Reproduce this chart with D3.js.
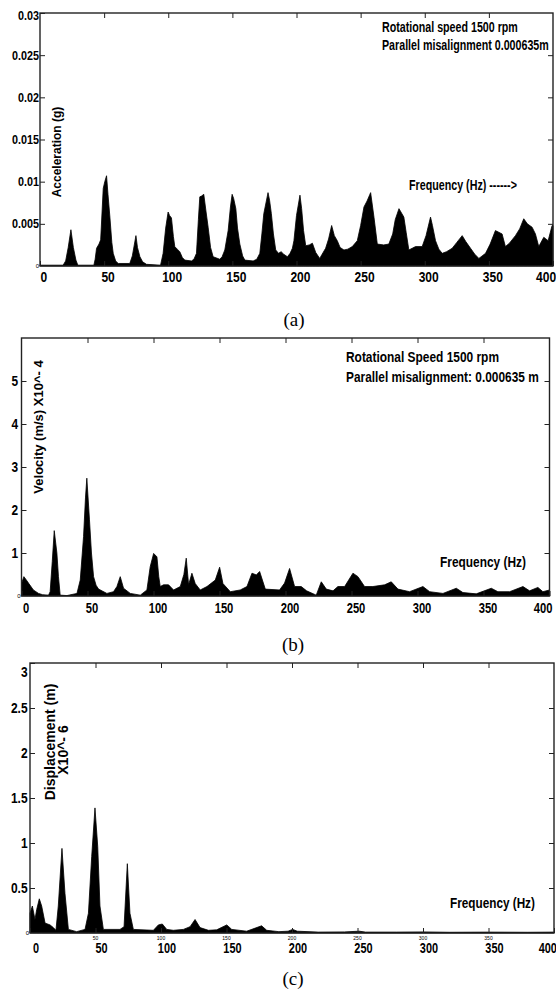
<!DOCTYPE html>
<html>
<head>
<meta charset="utf-8">
<script src="https://cdn.jsdelivr.net/npm/d3@7"></script>
<style>
  body { margin: 0; background: #fff; }
  svg text { font-family: "Liberation Sans", Arial, sans-serif; font-weight: bold; fill: #000; }
  svg text.caption { font-family: "Liberation Serif", "Times New Roman", serif; font-weight: normal; }
  svg text.tiny { font-weight: normal; }
</style>
</head>
<body>
<svg id="chart" width="556" height="994"></svg>
<script>
// ---- data (frequency in Hz) ----
const xTicks = [0, 50, 100, 150, 200, 250, 300, 350, 400]

// (a) acceleration, g
const accFreq = [0,18,20,22,24.1,26,28,29.5,42,43,44.1,46,47.3,49.3,50.5,51.9,53,54.5,56,57.1,59,61,70,72,74.8,76,77.9,80,83,94,96,98,99.9,101,102.5,104,105.1,107,109,111,112.9,118.1,120,122,123.5,124.6,126,127.7,129.5,131.1,133,135,140.2,142,144.1,146.7,148.5,149.8,151,152.7,154,155.8,158,159.7,166.2,169,171.4,173,174.5,177.8,179,180.4,182,183.8,186,188,190,192.9,195,196.8,198,200,202.7,204,205.5,207.2,210,212.4,215,218.1,220,222.7,225,227.4,229.5,231.8,234,237,240,243.5,247.4,250,252.6,255,257.8,260.4,263,268,272,275,277,279.9,283.7,285.5,287.6,292.8,298,301,304.5,306,308.4,311,313.6,317,321.4,325,329.2,332,335.7,339,342.2,347.4,351,355.1,360.3,362.9,366,370.7,374,377.2,380,383.7,386.3,388.9,392.8,396.2,399.3,400]
const accVal = [0.0001,0.0001,0.0006,0.0022,0.0043,0.0022,0.0007,0.0001,0.0001,0.0008,0.0021,0.0026,0.0031,0.0092,0.0100,0.0107,0.0085,0.0058,0.0028,0.0015,0.0006,0.0003,0.0003,0.0012,0.0036,0.0022,0.0011,0.0005,0.0002,0.0001,0.0015,0.0045,0.0064,0.0060,0.0057,0.0035,0.0023,0.0020,0.0017,0.0010,0.0007,0.0006,0.0008,0.0015,0.0055,0.0082,0.0083,0.0085,0.0064,0.0046,0.0022,0.0011,0.0008,0.0011,0.0019,0.0042,0.0070,0.0085,0.0080,0.0068,0.0045,0.0026,0.0012,0.0007,0.0006,0.0008,0.0015,0.0038,0.0062,0.0087,0.0078,0.0062,0.0038,0.0019,0.0015,0.0017,0.0014,0.0011,0.0015,0.0021,0.0030,0.0060,0.0084,0.0068,0.0042,0.0024,0.0025,0.0027,0.0016,0.0009,0.0014,0.0021,0.0032,0.0048,0.0036,0.0030,0.0022,0.0019,0.0020,0.0023,0.0030,0.0048,0.0070,0.0077,0.0087,0.0058,0.0026,0.0025,0.0026,0.0038,0.0055,0.0068,0.0058,0.0040,0.0019,0.0023,0.0023,0.0036,0.0058,0.0048,0.0030,0.0020,0.0015,0.0017,0.0021,0.0028,0.0036,0.0029,0.0021,0.0014,0.0009,0.0015,0.0026,0.0042,0.0038,0.0023,0.0027,0.0036,0.0044,0.0056,0.0050,0.0046,0.0038,0.0023,0.0034,0.0030,0.0048,0.0048]
const accTicks = [0.005, 0.01, 0.015, 0.02, 0.025, 0.03]
const accLabels = ["0.005", "0.01", "0.015", "0.02", "0.025", "0.03"]

// (b) velocity, m/s x10^-4
const velFreq = [0,1.8,3.5,5.3,9,12.9,16,20.5,21.7,23.3,24.8,26.8,28,29.3,34.4,42,44.5,47,48.5,49.5,51.5,53,54.6,56.5,58.4,64.7,69.7,72.3,74.8,77.3,82.4,90,95,97.5,100.1,102.6,104,105.1,107.6,111.4,115.2,120.3,123,124.8,126.6,129.1,131.6,135.4,140.5,146.8,150.1,152.6,158.2,165.7,170.8,174.6,177.9,180.4,184.7,195.5,199.3,203.1,206.9,211.9,216,223.3,227.1,230.9,236,239.7,244.8,251.1,254.9,259.9,266.2,275.1,280.1,285.2,294,304.1,309.2,319.3,329.4,334.4,344.5,355.9,360.9,369.8,379.9,384.9,391.2,395,400]
const velVal = [0.29,0.45,0.38,0.30,0.14,0.06,0.03,0.02,0.10,0.80,1.52,1.00,0.45,0.02,0.01,0.06,0.37,1.38,2.30,2.74,1.77,1.00,0.45,0.25,0.16,0.06,0.10,0.22,0.45,0.18,0.06,0.02,0.14,0.68,0.99,0.91,0.45,0.22,0.26,0.26,0.14,0.22,0.50,0.88,0.26,0.53,0.29,0.14,0.22,0.37,0.67,0.29,0.10,0.14,0.22,0.53,0.49,0.57,0.16,0.14,0.30,0.64,0.22,0.22,0.12,0.02,0.33,0.16,0.12,0.22,0.22,0.53,0.45,0.22,0.22,0.26,0.33,0.16,0.10,0.22,0.10,0.06,0.18,0.08,0.05,0.18,0.10,0.10,0.22,0.12,0.20,0.10,0.14]
const velTicks = [1, 2, 3, 4, 5]

// (c) displacement, m x10^-6
const dispFreq = [0,1.8,3.8,5.1,7.1,8.9,11.5,15.3,17.8,19.8,21.6,24.4,26.7,29.3,35.6,42,44.6,47.1,49.6,51.7,53.4,56,68.7,71.8,74.3,76.3,78.9,94.2,98,101,104.4,109.4,117.1,122.2,126,129.8,136.2,142.5,150.2,154,165.4,176.8,180.7,190,197,200.5,204,220,240,251.4,256,280,300,320,350,380,400]
const dispVal = [0.22,0.30,0.15,0.26,0.38,0.30,0.11,0.09,0.06,0.03,0.30,0.94,0.44,0.04,0.015,0.04,0.22,0.85,1.39,0.96,0.30,0.04,0.04,0.07,0.77,0.22,0.04,0.03,0.09,0.10,0.04,0.03,0.04,0.07,0.15,0.06,0.03,0.035,0.09,0.04,0.02,0.08,0.03,0.015,0.02,0.04,0.02,0.01,0.012,0.02,0.01,0.01,0.012,0.008,0.01,0.008,0.01]
const dispTicks = [0.5, 1, 1.5, 2, 2.5, 3]
const dispLabels = ["0.5", "1", "1.5", "2", "2.5", "3"]

const svg = d3.select("#chart")

// squeeze a text horizontally so it spans w pixels (narrow look of the original)
function narrowText(parent, t, x, y, w, size, rotate) {
  const el = parent.append("text").attr("font-size", size).text(t)
  const natural = el.node().getComputedTextLength()
  const s = Math.min(1, w / natural)
  if (rotate) {
    el.attr("text-anchor", "middle").attr("dominant-baseline", "central")
      .attr("transform", `translate(${x},${y}) rotate(-90) scale(${s},1)`)
  } else {
    el.attr("transform", `translate(${x},${y}) scale(${s},1)`)
  }
  return el
}

function drawPanel(p) {
  const x = d3.scaleLinear().domain([0, 400]).range([p.left, p.right])
  const y = d3.scaleLinear().domain([0, p.yMax]).range([p.bottom, p.top])
  const g = svg.append("g")

  // spectrum
  const pts = p.freq.map((f, i) => [f, p.val[i]])
  const area = d3.area().x(d => x(d[0])).y0(y(0)).y1(d => y(d[1]))
  g.append("path").datum(pts)
    .attr("d", area)
    .attr("fill", "#000")
    .attr("stroke", "#000")
    .attr("stroke-width", 0.8)
    .attr("stroke-linejoin", "round")

  // bottom axis, ticks inward
  const bx = g.append("g")
    .attr("transform", `translate(0,${p.bottom})`)
    .call(d3.axisBottom(x).tickValues(xTicks).tickSize(-5).tickPadding(p.xPad))
  bx.attr("font-family", null).attr("font-size", p.xFont)
  bx.select(".domain").remove()
  bx.selectAll("text")
    .attr("dx", p.xShift)
    .attr("transform", `scale(${p.xScale},1)`)
  bx.selectAll(".tick").filter(d => d === 400).select("text")
    .attr("text-anchor", "end").attr("dx", 3)

  // top axis ticks
  const tx = g.append("g")
    .attr("transform", `translate(0,${p.top})`)
    .call(d3.axisTop(x).tickValues(xTicks.slice(1, -1)).tickSize(-5).tickFormat(""))
  tx.select(".domain").remove()

  // left axis
  const ly = g.append("g")
    .attr("transform", `translate(${p.left},0)`)
    .call(d3.axisLeft(y).tickValues(p.yTicks).tickSize(-5).tickPadding(p.yPad)
      .tickFormat((d, i) => p.yLabels ? p.yLabels[i] : d))
  ly.attr("font-family", null).attr("font-size", p.yFont)
  ly.select(".domain").remove()
  ly.selectAll("text").attr("transform", `scale(${p.yScale},1)`)
  ly.selectAll(".tick").filter(d => d === p.yMax).select("text").attr("y", p.topShift)

  // right axis ticks
  const ry = g.append("g")
    .attr("transform", `translate(${p.right},0)`)
    .call(d3.axisRight(y).tickValues(p.yTicks.filter(d => d < p.yMax)).tickSize(-5).tickFormat(""))
  ry.select(".domain").remove()

  g.selectAll(".tick line").attr("stroke", "#222").attr("stroke-width", 1)

  // frame
  g.append("rect")
    .attr("x", p.left).attr("y", p.top)
    .attr("width", p.right - p.left).attr("height", p.bottom - p.top)
    .attr("fill", "none").attr("stroke", "#222").attr("stroke-width", 1.4)

  // little origin zero
  g.append("text").attr("class", "tiny")
    .attr("x", p.left - 1).attr("y", p.bottom + 2)
    .attr("text-anchor", "end").attr("font-size", 6).text("0")

  // tiny duplicate tick labels under the axis (panel c)
  if (p.tinyLabels) {
    g.selectAll(".tinylab").data(xTicks.slice(1, -1)).join("text")
      .attr("class", "tiny")
      .attr("x", d => x(d)).attr("y", p.bottom + 7)
      .attr("text-anchor", "middle").attr("font-size", 5)
      .text(d => d)
  }

  // y label(s)
  p.ylab.forEach(l => narrowText(g, l.t, l.x, l.y, l.w, l.size, true))

  // notes
  p.notes.forEach(n => narrowText(g, n.t, n.x, n.y, n.w, n.size || 14, false))

  // caption
  svg.append("text").attr("class", "caption")
    .attr("x", p.cap.x).attr("y", p.cap.y)
    .attr("text-anchor", "middle").attr("font-size", 19)
    .text(p.cap.t)
}

drawPanel({
  freq: accFreq, val: accVal, yMax: 0.03, yTicks: accTicks, yLabels: accLabels,
  left: 40, right: 553, top: 13, bottom: 266,
  xPad: 6, xFont: 14, xScale: 0.86, xShift: 4,
  yPad: 1, yFont: 12, yScale: 0.9, topShift: 3,
  ylab: [{ t: "Acceleration (g)", x: 57, y: 152, w: 93, size: 12 }],
  notes: [
    { t: "Rotational speed 1500 rpm", x: 382, y: 32, w: 136 },
    { t: "Parallel misalignment 0.000635m", x: 382, y: 50, w: 167 },
    { t: "Frequency (Hz) ------>", x: 409, y: 190, w: 108 }
  ],
  cap: { t: "(a)", x: 294, y: 326 }
})

drawPanel({
  freq: velFreq, val: velVal, yMax: 6, yTicks: velTicks, yLabels: null,
  left: 21.5, right: 549.5, top: 338, bottom: 596,
  xPad: 7, xFont: 14, xScale: 0.8, xShift: 5,
  yPad: 4, yFont: 14, yScale: 0.85, topShift: 0,
  ylab: [{ t: "Velocity (m/s) X10^- 4", x: 38, y: 427, w: 142, size: 13 }],
  notes: [
    { t: "Rotational Speed 1500 rpm", x: 346, y: 362, w: 153 },
    { t: "Parallel misalignment: 0.000635 m", x: 346, y: 382, w: 193 },
    { t: "Frequency (Hz)", x: 440, y: 567, w: 86 }
  ],
  cap: { t: "(b)", x: 293, y: 651 }
})

drawPanel({
  freq: dispFreq, val: dispVal, yMax: 3, yTicks: dispTicks, yLabels: dispLabels,
  left: 30, right: 554, top: 663, bottom: 933,
  xPad: 10, xFont: 14, xScale: 0.78, xShift: 7,
  yPad: 3, yFont: 15, yScale: 0.8, topShift: 9,
  tinyLabels: true,
  ylab: [
    { t: "Displacement (m)", x: 50, y: 742, w: 122, size: 14 },
    { t: "X10^- 6", x: 63, y: 750, w: 50, size: 14 }
  ],
  notes: [
    { t: "Frequency (Hz)", x: 450, y: 908, w: 85, size: 15 }
  ],
  cap: { t: "(c)", x: 293, y: 985 }
})
</script>
</body>
</html>
